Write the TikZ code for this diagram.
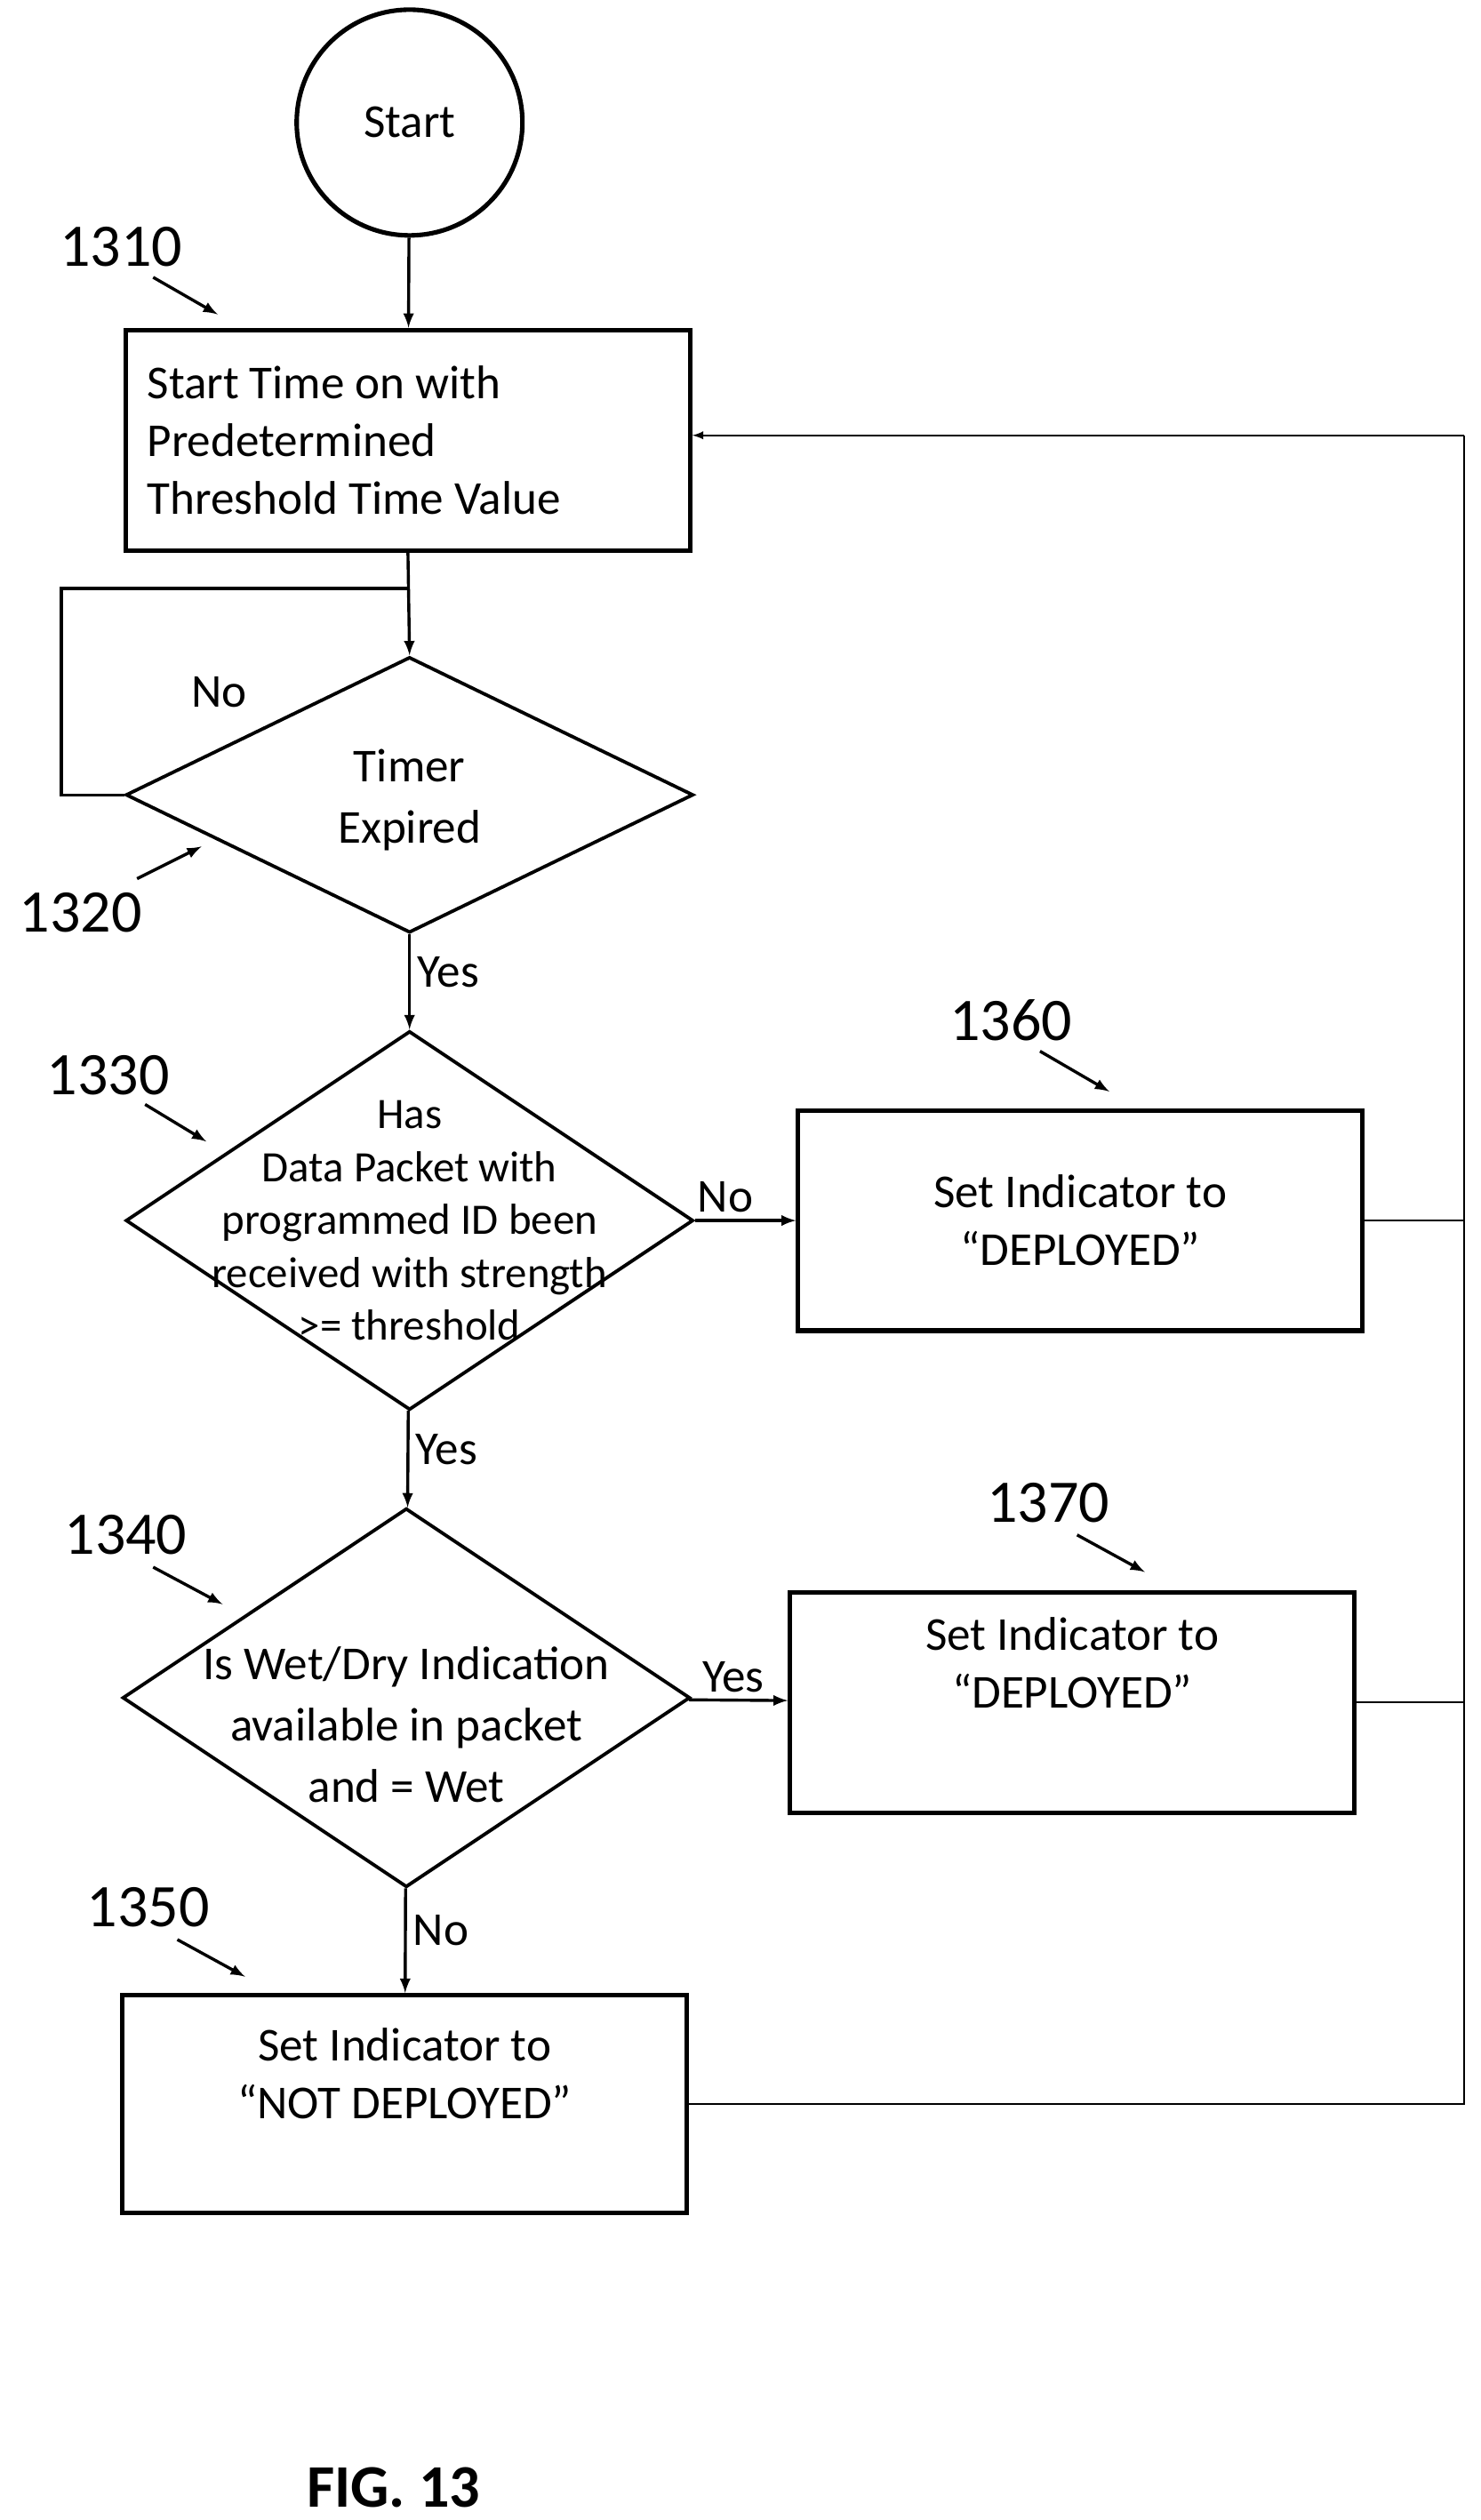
\documentclass[tikz,border=0pt]{standalone}
\usepackage{fontspec}
\setmainfont{Carlito}
\usetikzlibrary{arrows}
\usetikzlibrary{positioning}
\usetikzlibrary{shapes.geometric}
\tikzset{
  box/.style={draw,line width=2.4pt,minimum width=10.5cm,minimum height=4.1cm,
    align=center,font=\fontsize{25}{30.7}\selectfont},
  decide/.style={draw,diamond,line width=1.8pt,inner sep=0pt,
    minimum width=10.56cm,minimum height=#1},
  dtext/.style={align=center,font=\fontsize{23}{28}\selectfont},
  tag/.style={font=\fontsize{32}{36}\selectfont},
  flow/.style={line width=1.6pt,-latex},
  ref/.style={line width=1.6pt,-latex},
  lbl/.style={font=\fontsize{25}{30}\selectfont}
}
\begin{document}
\begin{tikzpicture}[x=0.03cm,y=-0.03cm]
  \useasboundingbox (0,0) rectangle (918,1563);

  \node[draw,circle,line width=2.4pt,minimum size=4.2cm,font=\fontsize{25}{30}\selectfont]
    (start) at (254,76) {Start};
  \node[box,align=flush left,text width=9.7cm] (b1310) at (253,273)
    {Start Time on with\\Predetermined\\Threshold Time Value};
  \node[decide=5.13cm] (d1320) at (254,493) {};
  \node[dtext,font=\fontsize{25}{32.5}\selectfont] at ([yshift=-0.1cm]d1320) {Timer\\Expired};
  \node[decide=7.05cm] (d1330) at (254,757) {};
  \node[dtext] at (d1330) {Has\\Data Packet with\\programmed ID been\\received with strength\\>= threshold};
  \node[box] (b1360) at (670,757) {Set Indicator to\\“DEPLOYED”};
  \node[decide=7.05cm] (d1340) at (252,1053) {};
  \node[dtext,font=\fontsize{25}{32.5}\selectfont] at ([yshift=-0.5cm]d1340) {Is Wet/Dry Indication\\available in packet\\and = Wet};
  \node[box] (b1370) at (665,1056) {Set Indicator to\\“DEPLOYED”\\[0.4cm]};
  \node[box,minimum height=4.05cm] (b1350) at (251,1305) {Set Indicator to\\“NOT DEPLOYED”\\[0.05cm]};

  % main flow
  \draw[flow] (start) -- (b1310);
  \draw[flow] (b1310.south) -- (d1320.north);
  \draw[line width=1.6pt] (d1320.west) -- (38,493) -- (38,365) -- (254,365);
  \draw[flow] (d1320) -- node[right,lbl,pos=0.4] {Yes} (d1330);
  \draw[flow] (d1330) -- node[above,lbl,pos=0.3] {No} (b1360);
  \draw[flow] (d1330) -- node[right,lbl,pos=0.4] {Yes} (d1340);
  \draw[flow] (d1340) -- node[above,lbl,pos=0.45] {Yes} (b1370);
  \draw[flow] (d1340) -- node[right,lbl,pos=0.4] {No} (b1350);
  \node[lbl] (no1) at (136,429) {No};

  % feedback
  \coordinate (fb) at (908,270);
  \draw[line width=1pt] (b1360.east) -- (b1360.east -| fb);
  \draw[line width=1pt] (b1370.east) -- (b1370.east -| fb);
  \draw[line width=1pt] (b1350.east) -- (b1350.east -| fb) -- (fb);
  \draw[line width=1pt,-latex] (fb) -- (b1310.east |- fb);

  % reference numerals
  \node[tag] (t1310) at (75,153) {1310};
  \draw[ref] (95,172) -- (135,195);
  \node[tag] (t1320) at (50,566) {1320};
  \draw[ref] (85,545) -- (125,525);
  \node[tag] (t1330) at (67,667) {1330};
  \draw[ref] (90,685) -- (128,708);
  \node[tag] (t1360) at (627,633) {1360};
  \draw[ref] (645,652) -- (688,677);
  \node[tag] (t1370) at (650,932) {1370};
  \draw[ref] (668,952) -- (710,975);
  \node[tag] (t1340) at (78,952) {1340};
  \draw[ref] (95,972) -- (138,995);
  \node[tag] (t1350) at (92,1183) {1350};
  \draw[ref] (110,1203) -- (152,1226);

  \node[font=\fontsize{32}{36}\selectfont\bfseries] (fig) at (244,1543) {FIG. 13};
\end{tikzpicture}
\end{document}
